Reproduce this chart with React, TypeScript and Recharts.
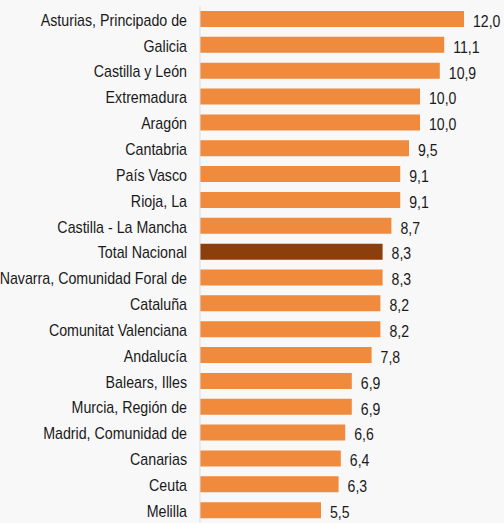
import { Bar, BarChart, Cell, LabelList, XAxis, YAxis } from "recharts";

const regions = [
  "Asturias, Principado de",
  "Galicia",
  "Castilla y León",
  "Extremadura",
  "Aragón",
  "Cantabria",
  "País Vasco",
  "Rioja, La",
  "Castilla - La Mancha",
  "Total Nacional",
  "Navarra, Comunidad Foral de",
  "Cataluña",
  "Comunitat Valenciana",
  "Andalucía",
  "Balears, Illes",
  "Murcia, Región de",
  "Madrid, Comunidad de",
  "Canarias",
  "Ceuta",
  "Melilla",
];

const rates = [
  12.0, 11.1, 10.9, 10.0, 10.0, 9.5, 9.1, 9.1, 8.7, 8.3, 8.3, 8.2, 8.2, 7.8,
  6.9, 6.9, 6.6, 6.4, 6.3, 5.5,
];

const highlight = "Total Nacional";

const data = regions.map((region, i) => ({ region, value: rates[i] }));

const fontFamily = '"Liberation Sans", Arial, sans-serif';

function fmt(v: unknown) {
  return typeof v === "number" ? v.toFixed(1).replace(".", ",") : String(v ?? "");
}

// condensed look: regular sans squeezed horizontally
function RegionTick(props: any) {
  const { x, y, payload } = props;
  return (
    <g transform={`translate(${x},${y + 1}) scale(0.89,1)`}>
      <text
        x={0}
        y={0}
        textAnchor="end"
        dominantBaseline="central"
        fontSize={16}
        fill="#1a1a1a"
        fontFamily={fontFamily}
      >
        {payload.value}
      </text>
    </g>
  );
}

function ValueLabel(props: any) {
  const { x, y, width, height, value } = props;
  return (
    <g transform={`translate(${x + width + 9},${y + height / 2 + 2}) scale(0.88,1)`}>
      <text
        x={0}
        y={0}
        dominantBaseline="central"
        fontSize={16}
        fill="#1a1a1a"
        fontFamily={fontFamily}
      >
        {fmt(value)}
      </text>
    </g>
  );
}

export default function App() {
  return (
    <div
      style={{
        position: "fixed",
        left: 0,
        top: 0,
        width: 504,
        height: 523,
        background: "#f8f8f8",
      }}
    >
      <BarChart
        width={504}
        height={523}
        data={data}
        layout="vertical"
        margin={{ top: 6, right: 40, bottom: 0, left: 0 }}
        barCategoryGap={5}
      >
        <XAxis type="number" domain={[0, 12]} hide />
        <YAxis
          type="category"
          dataKey="region"
          width={200}
          tickSize={0}
          tickMargin={13}
          axisLine={{ stroke: "#dddddd" }}
          tickLine={false}
          interval={0}
          tick={<RegionTick />}
        />
        <Bar dataKey="value" isAnimationActive={false}>
          {data.map((d) => (
            <Cell
              key={d.region}
              fill={d.region === highlight ? "#8c3f0c" : "#f08a3c"}
            />
          ))}
          <LabelList dataKey="value" content={<ValueLabel />} />
        </Bar>
      </BarChart>
    </div>
  );
}
